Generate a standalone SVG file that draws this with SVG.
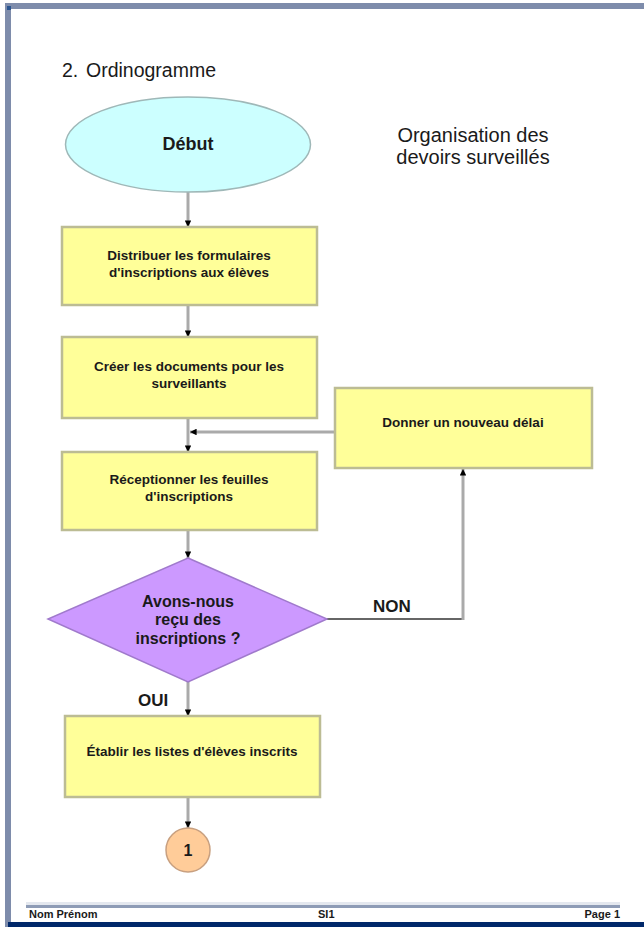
<svg xmlns="http://www.w3.org/2000/svg" width="644" height="927" viewBox="0 0 644 927">
<style>
text{font-family:"Liberation Sans",Arial,sans-serif;fill:#1a1a1a}
.box{fill:#ffff99;stroke:#bcbc94;stroke-width:2.5}
.t{font-size:13.5px;font-weight:bold;text-anchor:middle}
.conn{fill:none;stroke:#aaaaaa;stroke-width:3}
.dark{fill:none;stroke:#666666;stroke-width:2}
.lbl{font-size:17px;font-weight:bold}
.foot{font-size:11px;font-weight:bold}
</style>
<defs>
<marker id="ah" viewBox="0 0 10 10" refX="10" refY="5" markerWidth="2.2" markerHeight="2.2" orient="auto" markerUnits="strokeWidth">
<path d="M0,0 L10,5 L0,10 z" fill="#000000"/>
</marker>
</defs>
<rect x="0" y="0" width="644" height="927" fill="#ffffff"/>
<g id="page">
<rect x="5" y="3" width="639" height="6" fill="#7e8cab"/>
<rect x="5" y="3" width="6" height="924" fill="#7e8cab"/>
<rect x="7" y="6" width="4" height="4" fill="#2a5590"/>
<rect x="26" y="902" width="594" height="3" fill="#e4e8ef"/>
<rect x="26" y="905" width="594" height="3" fill="#8e9cb6"/>
<rect x="8" y="922" width="636" height="5" fill="#00286a"/>
<text class="foot" x="29" y="918">Nom Prénom</text>
<text class="foot" x="318" y="918">SI1</text>
<text class="foot" x="620" y="918" text-anchor="end">Page 1</text>
</g>
<g id="title">
<text x="62" y="77" font-size="19.5">2.</text>
<text x="86" y="77" font-size="19.5">Ordinogramme</text>
</g>
<g id="subtitle">
<text x="473" y="142" font-size="20" text-anchor="middle">Organisation des</text>
<text x="473" y="164" font-size="20" text-anchor="middle">devoirs surveillés</text>
</g>
<g id="connectors">
<line class="conn" x1="188" y1="192" x2="188" y2="227" marker-end="url(#ah)"/>
<line class="conn" x1="188" y1="305" x2="188" y2="337" marker-end="url(#ah)"/>
<line class="conn" x1="188" y1="418" x2="188" y2="452" marker-end="url(#ah)"/>
<line class="conn" x1="335" y1="432" x2="190" y2="432" marker-end="url(#ah)"/>
<line class="conn" x1="188" y1="530" x2="188" y2="558" marker-end="url(#ah)"/>
<line class="dark" x1="327" y1="619" x2="463" y2="619"/>
<line class="conn" x1="463" y1="620" x2="463" y2="469" marker-end="url(#ah)"/>
<line class="conn" x1="188" y1="682" x2="188" y2="716" marker-end="url(#ah)"/>
<line class="conn" x1="188" y1="797" x2="188" y2="828" marker-end="url(#ah)"/>
<text class="lbl" x="373" y="612">NON</text>
<text class="lbl" x="138" y="706">OUI</text>
</g>
<g id="debut">
<ellipse cx="188" cy="144.5" rx="122.5" ry="47.5" fill="#ccffff" stroke="#9fb8b8" stroke-width="1.5"/>
<text x="188" y="150" font-size="18" font-weight="bold" text-anchor="middle">Début</text>
</g>
<g id="distribuer">
<rect class="box" x="62" y="227" width="255" height="78"/>
<text class="t" x="189" y="260">Distribuer les formulaires</text>
<text class="t" x="189" y="277">d'inscriptions aux élèves</text>
</g>
<g id="creer">
<rect class="box" x="62" y="337" width="255" height="81"/>
<text class="t" x="189" y="371">Créer les documents pour les</text>
<text class="t" x="189" y="388">surveillants</text>
</g>
<g id="receptionner">
<rect class="box" x="62" y="452" width="255" height="78"/>
<text class="t" x="189" y="484">Réceptionner les feuilles</text>
<text class="t" x="189" y="501">d'inscriptions</text>
</g>
<g id="donner">
<rect class="box" x="335" y="388" width="257" height="80"/>
<text class="t" x="463" y="427">Donner un nouveau délai</text>
</g>
<g id="decision">
<polygon points="188,558 327,619 188,682 48,619" fill="#cc99ff" stroke="#a07acc" stroke-width="1.5"/>
<text x="188" y="607" font-size="16" font-weight="bold" text-anchor="middle">Avons-nous</text>
<text x="188" y="625" font-size="16" font-weight="bold" text-anchor="middle">reçu des</text>
<text x="188" y="644" font-size="16" font-weight="bold" text-anchor="middle">inscriptions ?</text>
</g>
<g id="etablir">
<rect class="box" x="65" y="716" width="255" height="81"/>
<text class="t" x="192" y="756">Établir les listes d'élèves inscrits</text>
</g>
<g id="connecteur1">
<circle cx="188" cy="850" r="22" fill="#ffcc99" stroke="#c8a080" stroke-width="1.5"/>
<text x="188" y="856" font-size="16" font-weight="bold" text-anchor="middle">1</text>
</g>
</svg>
